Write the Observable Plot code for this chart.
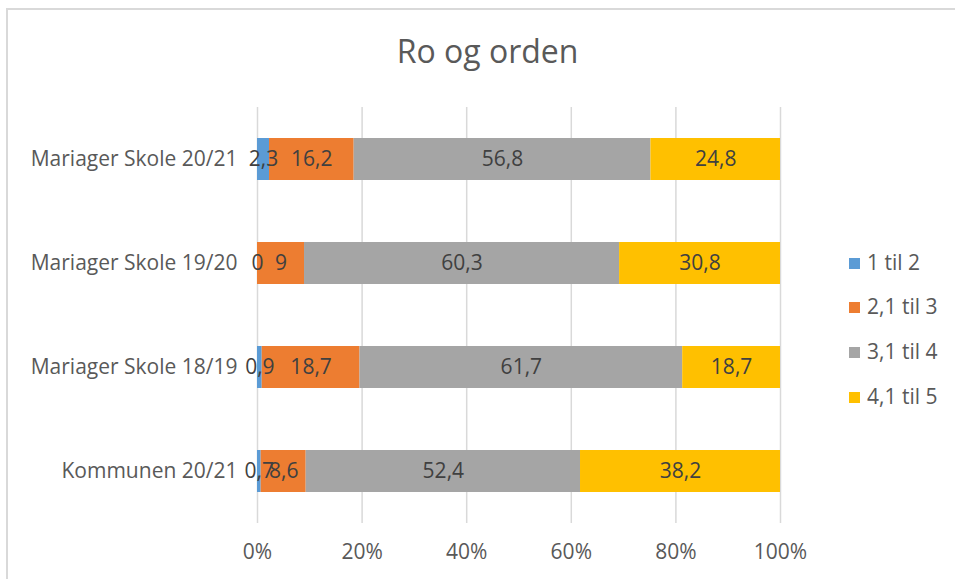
<!DOCTYPE html>
<html>
<head>
<meta charset="utf-8">
<script src="https://cdn.jsdelivr.net/npm/d3@7"></script>
<script src="https://cdn.jsdelivr.net/npm/@observablehq/plot@0.6"></script>
<style>
  html, body { margin: 0; padding: 0; background: #fff; }
  #wrap { position: relative; width: 955px; height: 579px; overflow: hidden; font-family: "Open Sans", sans-serif; }
  #frame { position: absolute; left: 6px; top: 8px; width: 1000px; height: 1000px; border-left: 2px solid #d9d9d9; border-top: 2px solid #d9d9d9; box-sizing: border-box; }
  #title { position: absolute; left: 0; width: 975px; top: 29px; text-align: center; font-size: 32px; color: #595959; }
  #legend { position: absolute; left: 849px; top: 0; }
  .item { position: absolute; white-space: nowrap; font-size: 21px; color: #595959; }
  .sw { position: absolute; width: 11px; height: 11px; }
  #chart { position: absolute; left: 0; top: 0; }
</style>
</head>
<body>
<div id="wrap">
  <div id="frame"></div>
  <div id="chart"></div>
  <div id="title">Ro og orden</div>
  <div id="legend"></div>
</div>
<script>
const groups = ["Mariager Skole 20/21", "Mariager Skole 19/20", "Mariager Skole 18/19", "Kommunen 20/21"];
const series = ["1 til 2", "2,1 til 3", "3,1 til 4", "4,1 til 5"];
const colors = ["#5B9BD5", "#ED7D31", "#A5A5A5", "#FFC000"];
const v1 = [2.3, 0, 0.9, 0.7];
const v2 = [16.2, 9, 18.7, 8.6];
const v3 = [56.8, 60.3, 61.7, 52.4];
const v4 = [24.8, 30.8, 18.7, 38.2];
const ticks = [0, 0.2, 0.4, 0.6, 0.8, 1];

const cols = [v1, v2, v3, v4];
const data = [];
groups.forEach((g, gi) => {
  series.forEach((s, si) => {
    data.push({group: g, series: s, value: cols[si][gi]});
  });
});
const fmt = v => String(v).replace(".", ",");

const chart = Plot.plot({
  width: 955,
  height: 579,
  marginLeft: 257,
  marginRight: 175,
  marginTop: 107,
  marginBottom: 56,
  style: {fontFamily: "Open Sans, sans-serif", fontSize: "21px", color: "#595959", background: "transparent"},
  x: {domain: [0, 1], label: null},
  y: {domain: groups, paddingInner: 0.6, paddingOuter: 0.3, label: null},
  color: {domain: series, range: colors},
  marks: [
    Plot.gridX(ticks, {stroke: "#d9d9d9", strokeOpacity: 1, strokeWidth: 1.5}),
    Plot.barX(data, Plot.stackX({offset: "normalize", order: series, x: "value", y: "group", z: "series", fill: "series"})),
    Plot.text(data, Plot.stackX({offset: "normalize", order: series, x: "value", y: "group", z: "series", text: d => fmt(d.value), fill: "#404040", fontSize: 21})),
    Plot.axisX(ticks, {tickSize: 0, tickPadding: 21, tickFormat: d => Math.round(d * 100) + "%", fontSize: 21, fill: "#595959", label: null}),
    Plot.axisY({tickSize: 0, tickPadding: 20, fontSize: 21, fill: "#595959", label: null})
  ]
});
document.getElementById("chart").appendChild(chart);

const legend = document.getElementById("legend");
const ly = [263, 307, 352, 397];
series.forEach((s, i) => {
  const sw = document.createElement("div");
  sw.className = "sw";
  sw.style.left = "0px";
  sw.style.top = (ly[i] - 5.5) + "px";
  sw.style.background = colors[i];
  legend.appendChild(sw);
  const t = document.createElement("div");
  t.className = "item";
  t.style.left = "18px";
  t.style.top = (ly[i] - 15) + "px";
  t.textContent = s;
  legend.appendChild(t);
});
</script>
</body>
</html>
